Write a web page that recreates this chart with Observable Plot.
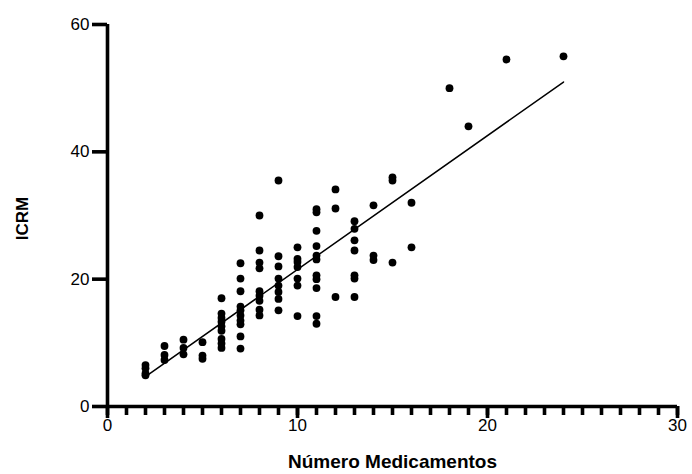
<!DOCTYPE html>
<html>
<head>
<meta charset="utf-8">
<script src="https://cdn.jsdelivr.net/npm/d3@7"></script>
<script src="https://cdn.jsdelivr.net/npm/@observablehq/plot@0.6"></script>
<style>
  html, body { margin: 0; padding: 0; background: #fff; }
  #chart svg { display: block; }
</style>
</head>
<body>
<div id="chart"></div>
<script>
// Number of medications (x) and the ICRM values observed at each count (y)
const numMedicamentos = [2, 3, 4, 5, 6, 7, 8, 9, 10, 11, 12, 13, 14, 15, 16, 18, 19, 21, 24];
const icrmValues = [
  [6.5, 6.0, 5.2, 4.9],
  [9.5, 8.1, 7.3],
  [10.5, 9.2, 8.2],
  [10.1, 8.0, 7.5],
  [17.0, 14.6, 13.9, 13.3, 12.6, 11.9, 10.6, 9.9, 9.2],
  [22.5, 20.1, 18.1, 15.7, 15.1, 14.3, 13.5, 12.9, 11.0, 9.1],
  [30.0, 24.5, 22.6, 21.7, 18.1, 17.4, 16.6, 15.2, 14.3],
  [35.5, 23.6, 22.0, 20.1, 19.0, 18.0, 16.9, 15.1],
  [25.0, 23.2, 22.7, 21.9, 20.1, 19.0, 14.2],
  [31.0, 30.5, 27.6, 25.2, 23.7, 23.1, 20.6, 20.0, 18.6, 14.2, 13.0],
  [34.1, 31.1, 17.2],
  [29.1, 27.9, 26.1, 24.5, 20.6, 20.1, 17.2],
  [31.6, 23.7, 23.0],
  [36.0, 35.5, 22.6],
  [32.0, 25.0],
  [50.0],
  [44.0],
  [54.5],
  [55.0]
];
const xMajorTicks = [0, 10, 20, 30];
const xMinorTicks = d3.range(0, 31);
const yTicks = [0, 20, 40, 60];
const xTitle = "Número Medicamentos";
const yTitle = "ICRM";

const data = numMedicamentos.flatMap((n, i) => icrmValues[i].map(v => ({x: n, y: v})));

const font = "'Liberation Sans', Arial, Helvetica, sans-serif";

const chart = Plot.plot({
  width: 692,
  height: 474,
  marginLeft: 107,
  marginRight: 15,
  marginTop: 24,
  marginBottom: 68,
  style: {fontFamily: font, fontSize: "17px", color: "black", background: "white"},
  x: {domain: [0, 30]},
  y: {domain: [0, 60]},
  marks: [
    Plot.axisX({ticks: xMinorTicks, tickSize: 9, strokeWidth: 3.6, text: null, label: null}),
    Plot.axisX({ticks: xMajorTicks, tickSize: 12, strokeWidth: 3.6, tickPadding: 0, fontSize: 17, label: null}),
    Plot.axisY({ticks: yTicks, tickSize: 15, strokeWidth: 3.6, tickPadding: 3, fontSize: 17, label: null}),
    Plot.ruleY([0], {x1: 0, x2: 30, strokeWidth: 3.6, stroke: "black"}),
    Plot.ruleX([0], {y1: 0, y2: 60, strokeWidth: 3.6, stroke: "black"}),
    Plot.linearRegressionY(data, {x: "x", y: "y", ci: 0, stroke: "black", strokeWidth: 1.5}),
    Plot.dot(data, {x: "x", y: "y", r: 3.9, fill: "black", stroke: null}),
    Plot.text([xTitle], {frameAnchor: "bottom", dy: 61, fontWeight: "bold", fontSize: 19}),
    Plot.text([yTitle], {frameAnchor: "left", dx: -85, dy: 3, rotate: -90, textAnchor: "middle", fontWeight: "bold", fontSize: 17})
  ]
});

document.getElementById("chart").appendChild(chart);
</script>
</body>
</html>
